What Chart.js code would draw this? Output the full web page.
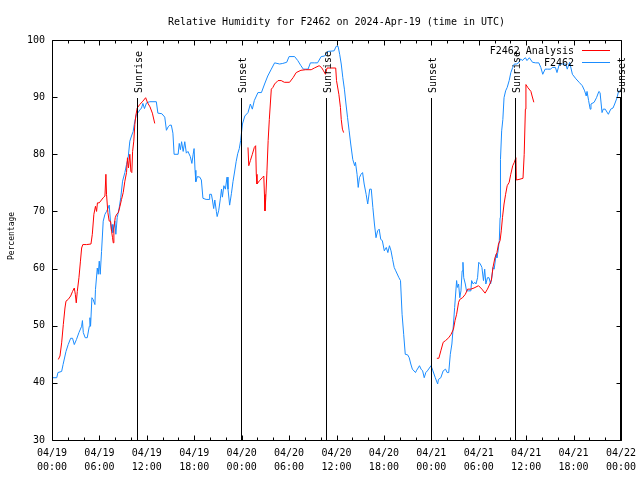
<!DOCTYPE html>
<html>
<head>
<meta charset="utf-8">
<script src="https://cdn.jsdelivr.net/npm/chart.js@4.4.1/dist/chart.umd.min.js"></script>
<style>
  html, body { margin: 0; padding: 0; background: #fff; }
  canvas { display: block; }
</style>
</head>
<body>
<canvas id="rh" width="640" height="480"></canvas>
<script>
// ============ data (hours since 04/19 00:00 UTC) ============
const TITLE = "Relative Humidity for F2462 on 2024-Apr-19 (time in UTC)";
const Y_TITLE = "Percentage";
const DAYS = ["04/19", "04/20", "04/21", "04/22"];

// F2462 observations
const obsHours = [
  0.0, 0.6, 0.75, 1.22, 1.4, 1.77, 2.05, 2.36, 2.6, 2.82, 3.1, 3.41, 3.75, 3.85, 3.96, 4.2, 4.46, 4.72, 4.8, 4.88,
  5.05, 5.2, 5.43, 5.5, 5.73, 5.85, 5.98, 6.1, 6.27, 6.48, 6.7, 6.9, 7.1, 7.24, 7.4, 7.54, 7.62, 7.7, 7.96, 8.08,
  8.25, 8.5, 8.7, 8.93, 9.22, 9.43, 9.64, 9.85, 10.06, 10.27, 10.48, 10.69, 10.9, 11.1, 11.33, 11.5, 11.7, 11.96, 12.38, 13.2,
  13.4, 13.9, 14.27, 14.48, 14.7, 14.9, 15.1, 15.3, 15.45, 15.96, 16.1, 16.25, 16.4, 16.6, 16.8, 17.0, 17.2, 17.5, 17.7, 17.85,
  17.98, 18.1, 18.2, 18.4, 18.7, 18.9, 19.1, 19.5, 19.87, 19.95, 20.17, 20.3, 20.46, 20.6, 20.8, 20.9, 21.1, 21.3, 21.45, 21.56,
  21.75, 21.94, 22.15, 22.27, 22.48, 22.7, 22.9, 23.1, 23.3, 23.5, 23.7, 23.87, 24.1, 24.4, 24.8, 25.1, 25.35, 25.6, 26.06, 26.5,
  26.9, 27.3, 27.75, 28.17, 28.8, 29.2, 29.7, 30.0, 30.7, 31.1, 31.5, 31.8, 32.4, 32.7, 33.2, 33.6, 34.06, 34.5, 34.9, 35.7,
  35.96, 36.2, 36.4, 36.6, 36.8, 37.0, 37.2, 37.4, 37.6, 37.8, 38.06, 38.3, 38.4, 38.6, 38.75, 38.9, 39.1, 39.3, 39.5, 39.75,
  39.95, 40.2, 40.4, 40.6, 40.8, 41.0, 41.2, 41.4, 41.6, 41.8, 42.05, 42.3, 42.5, 42.7, 42.9, 43.1, 43.3, 43.5, 43.9, 44.1,
  44.3, 44.5, 44.7, 45.0, 45.2, 45.4, 45.6, 46.0, 46.1, 46.5, 46.7, 46.9, 47.1, 47.3, 47.5, 47.96, 48.2, 48.5, 48.8, 48.9,
  49.2, 49.5, 49.8, 50.0, 50.2, 50.4, 50.6, 50.8, 50.95, 51.2, 51.3, 51.45, 51.6, 51.75, 51.9, 52.0, 52.1, 52.3, 52.45, 52.7,
  53.0, 53.1, 53.3, 53.5, 53.65, 53.85, 54.0, 54.2, 54.4, 54.6, 54.75, 54.9, 55.1, 55.3, 55.5, 55.65, 55.8, 55.95, 56.2, 56.3,
  56.45, 56.6, 56.7, 56.75, 56.9, 57.05, 57.2, 57.4, 57.6, 57.85, 58.06, 58.3, 58.5, 58.8, 59.1, 59.3, 59.5, 59.9, 60.1, 60.4,
  60.8, 61.2, 61.6, 61.85, 62.1, 62.4, 62.7, 63.1, 63.3, 63.7, 63.9, 64.2, 64.6, 65.0, 65.2, 65.5, 65.85, 66.3, 66.7, 67.1,
  67.4, 67.6, 67.7, 67.9, 68.1, 68.2, 68.6, 68.9, 69.2, 69.35, 69.6, 69.75, 70.0, 70.4, 70.7, 70.99, 71.2, 71.5, 71.7, 72.0
];
const obsValues = [
  40.9, 40.9, 41.8, 42.0, 43.2, 45.5, 46.7, 47.8, 47.8, 46.7, 47.6, 48.8, 49.9, 50.9, 48.8, 47.9, 47.9, 49.9, 51.4, 49.9,
  54.9, 54.6, 53.7, 56.3, 60.1, 59.0, 61.3, 59.0, 63.0, 68.3, 69.5, 70.0, 70.6, 71.1, 68.3, 66.5, 67.7, 66.3, 68.3, 66.0,
  68.9, 70.6, 72.4, 75.3, 76.8, 78.2, 79.4, 82.3, 83.2, 84.0, 85.8, 87.0, 87.3, 87.75, 88.1, 88.9, 88.0, 89.0, 89.2, 89.2,
  87.2, 87.1, 86.5, 84.2, 84.8, 85.1, 85.1, 83.7, 80.0, 80.0, 81.9, 80.8, 82.2, 80.5, 82.2, 80.2, 80.5, 79.6, 78.4, 79.9,
  81.0, 77.2, 75.2, 76.1, 76.0, 75.5, 72.3, 72.1, 72.1, 73.0, 73.0, 72.0, 70.5, 72.0, 70.0, 69.1, 70.2, 72.2, 73.9, 72.5,
  74.5, 73.9, 76.0, 73.9, 71.1, 73.1, 75.2, 76.9, 78.7, 80.1, 81.0, 82.4, 85.3, 86.7, 87.3, 88.8, 87.9, 89.4, 90.8, 90.8,
  92.3, 93.7, 94.9, 96.0, 95.8, 95.9, 96.1, 97.1, 97.1, 96.4, 95.5, 94.9, 94.9, 96.0, 96.0, 96.0, 97.1, 97.2, 98.0, 98.1,
  98.9, 98.9, 97.5, 95.8, 93.4, 91.4, 88.8, 86.4, 84.1, 81.8, 79.1, 78.0, 78.6, 76.5, 74.2, 75.9, 76.5, 76.8, 74.8, 73.0,
  71.3, 73.9, 73.9, 70.7, 67.8, 65.4, 66.6, 66.9, 65.1, 64.9, 63.1, 63.7, 62.8, 64.0, 63.1, 61.6, 60.2, 59.6, 58.4, 57.9,
  52.0, 48.5, 45.0, 44.9, 44.4, 43.3, 42.4, 41.8, 42.1, 43.0, 42.4, 42.1, 40.9, 41.8, 42.1, 43.0, 42.1, 40.9, 39.8, 40.6,
  40.9, 42.1, 42.4, 41.8, 41.8, 45.0, 46.8, 50.3, 53.2, 57.9, 56.7, 57.3, 54.9, 56.1, 59.6, 61.1, 58.4, 57.3, 56.1, 56.1,
  56.1, 57.9, 57.3, 57.6, 57.3, 58.4, 61.1, 60.8, 60.2, 57.9, 59.9, 57.3, 58.4, 58.4, 57.3, 58.4, 60.2, 59.9, 62.5, 61.9,
  63.1, 64.9, 68.9, 79.1, 84.1, 86.1, 89.9, 91.1, 91.7, 92.9, 94.3, 95.2, 95.8, 95.8, 96.1, 96.7, 96.4, 96.9, 96.4, 96.9,
  96.1, 96.0, 96.0, 95.2, 94.0, 94.9, 94.9, 94.9, 95.2, 95.2, 94.3, 95.8, 95.8, 95.8, 94.9, 96.1, 94.0, 93.2, 92.6, 92.0,
  91.1, 90.2, 91.0, 89.4, 87.9, 88.8, 89.1, 89.9, 91.0, 90.8, 87.3, 87.9, 87.9, 87.0, 87.9, 88.1, 88.8, 89.9, 91.1, 91.0
];

// F2462 Analysis (null = gap)
const anaHours = [
  0.8, 1.01, 1.22, 1.43, 1.64, 1.77, 2.05, 2.36, 2.6, 2.82, 2.95, 3.07, 3.2, 3.41, 3.6, 3.75, 3.9, 4.38, 4.93, 5.1,
  5.3, 5.5, 5.64, 5.75, 5.98, 6.48, 6.7, 6.82, 6.9, 7.07, 7.24, 7.41, 7.54, 7.66, 7.75, 7.83, 8.0, 8.17, 8.4, 8.6,
  8.8, 9.01, 9.22, 9.43, 9.55, 9.68, 9.85, 9.98, 10.1, 10.2, 10.35, 10.48, 10.6, 10.78, 11.1, 11.5, 11.85, 12.1, 12.4, 12.7,
  13.0, 13.5,
  24.8, 24.9, 25.1, 25.35, 25.6, 25.77, 25.85, 25.94, 26.27, 26.6, 26.8, 26.88, 26.95, 27.05, 27.2, 27.35, 27.5, 27.75, 27.95, 28.17,
  28.6, 29.0, 29.4, 30.06, 30.5, 30.9, 31.5, 32.1, 32.8, 33.2, 33.8, 34.1, 34.36, 34.6, 34.8, 35.3, 35.9, 36.0, 36.3, 36.5,
  36.6, 36.75, 36.9, 40.0,
  48.7, 48.95, 49.2, 49.5, 49.8, 50.2, 50.5, 50.8, 51.0, 51.2, 51.45, 51.6, 51.95, 52.3, 52.6, 53.0, 53.4, 53.97, 54.4, 54.8,
  55.1, 55.4, 55.6, 55.8, 56.05, 56.3, 56.5, 56.7, 56.85, 57.0, 57.2, 57.4, 57.6, 57.85, 58.05, 58.3, 58.5, 58.7, 58.75, 59.1,
  59.6, 59.75, 59.9, 59.97, 60.2, 60.6, 60.75, 60.97
];
const anaValues = [
  44.1, 44.7, 47.0, 50.2, 53.1, 54.3, 54.6, 55.2, 56.0, 56.6, 55.5, 54.0, 56.0, 58.4, 61.3, 63.6, 64.2, 64.2, 64.3, 66.0,
  69.5, 70.9, 70.0, 71.5, 71.5, 72.4, 72.7, 76.5, 73.0, 69.8, 68.3, 68.3, 66.5, 65.4, 64.5, 67.1, 68.9, 69.5, 69.8, 70.9,
  72.1, 73.3, 75.3, 76.8, 79.4, 77.6, 80.0, 77.0, 76.8, 80.5, 82.3, 85.2, 86.7, 88.1, 88.7, 89.3, 89.9, 89.0, 88.3, 87.2,
  85.4, null,
  81.2, 78.0, 78.9, 80.0, 81.2, 81.5, 76.5, 74.8, 75.4, 75.9, 76.2, 73.0, 70.1, 72.4, 77.1, 82.4, 86.1, 91.4, 91.7, 92.3,
  92.9, 92.9, 92.6, 92.6, 93.4, 94.3, 94.7, 94.8, 94.8, 95.1, 95.5, 95.2, 94.6, 94.0, 95.1, 95.1, 95.1, 92.9, 90.5, 88.2,
  86.1, 84.4, 83.8, null,
  44.3, 44.3, 45.6, 47.1, 47.4, 47.9, 48.5, 49.4, 50.9, 52.0, 54.1, 54.6, 54.9, 55.5, 56.4, 56.4, 56.6, 57.0, 56.4, 55.7,
  56.4, 57.3, 58.0, 60.2, 61.9, 62.8, 64.3, 64.9, 66.6, 68.9, 71.3, 73.0, 74.5, 75.1, 76.5, 78.0, 78.6, 79.4, 75.5, 75.6,
  75.8, 80.0, 87.9, 92.2, 91.7, 91.0, 90.2, 89.1
];

const sunHours = [10.7, 23.93, 34.65, 47.93, 58.65, 71.9];
const sunLabels = ["Sunrise", "Sunset", "Sunrise", "Sunset", "Sunrise", "Sunset"];

const FONT = "'DejaVu Sans Mono', 'Liberation Mono', monospace";
const RED = "#ff0000";
const BLUE = "#1a8cff";

const toPoints = (hs, vs) => hs.map((h, i) => ({ x: h, y: vs[i] }));

// =====================
// frame, ticks, sun lines, legend, titles
// =====================
const frame = {
  id: "frame",
  afterDraw(chart) {
    const ctx = chart.ctx;
    const a = chart.chartArea;
    const xs = chart.scales.x, ys = chart.scales.y;
    const L = Math.round(a.left) + 0.5, R = Math.round(a.right) + 0.5;
    const T = Math.round(a.top) + 0.5, B = Math.round(a.bottom) + 0.5;
    ctx.save();
    ctx.strokeStyle = "#000";
    ctx.lineWidth = 1;
    ctx.beginPath();
    ctx.rect(L, T, R - L, B - T);
    // x ticks: major every 6h, minor every 2h
    for (let h = 0; h <= 72; h += 2) {
      const px = Math.round(xs.getPixelForValue(h)) + 0.5;
      const len = h % 6 === 0 ? 5 : 3;
      ctx.moveTo(px, B); ctx.lineTo(px, B - len);
      ctx.moveTo(px, T); ctx.lineTo(px, T + len);
    }
    for (let v = 30; v <= 100; v += 10) {
      const py = Math.round(ys.getPixelForValue(v)) + 0.5;
      ctx.moveTo(L, py); ctx.lineTo(L + 5, py);
      ctx.moveTo(R, py); ctx.lineTo(R - 5, py);
    }
    ctx.stroke();

    // sunrise / sunset
    const topY = Math.round(ys.getPixelForValue(90)) + 1;
    ctx.fillStyle = "#000";
    ctx.font = "10px " + FONT;
    sunHours.forEach((h, i) => {
      const px = Math.round(xs.getPixelForValue(h)) + 0.5;
      ctx.beginPath();
      ctx.moveTo(px, B); ctx.lineTo(px, topY);
      ctx.stroke();
      ctx.save();
      ctx.translate(px + 4.5, topY - 5);
      ctx.rotate(-Math.PI / 2);
      ctx.textAlign = "left";
      ctx.textBaseline = "alphabetic";
      ctx.fillText(sunLabels[i], 0, 0);
      ctx.restore();
    });

    // title
    ctx.textAlign = "center";
    ctx.textBaseline = "alphabetic";
    ctx.fillText(TITLE, (a.left + a.right) / 2, 25);

    // y title
    ctx.save();
    ctx.font = "8px " + FONT;
    ctx.translate(11.5, (a.top + a.bottom) / 2 - 4);
    ctx.rotate(-Math.PI / 2);
    ctx.textBaseline = "middle";
    ctx.fillText(Y_TITLE, 0, 0);
    ctx.restore();

    // legend
    ctx.font = "10px " + FONT;
    ctx.textAlign = "right";
    chart.data.datasets.forEach((ds, i) => {
      const base = 54 + i * 12;
      ctx.fillStyle = "#000";
      ctx.fillText(ds.label, 574, base);
      ctx.strokeStyle = ds.borderColor;
      ctx.beginPath();
      ctx.moveTo(582, base - 3.5); ctx.lineTo(610, base - 3.5);
      ctx.stroke();
    });
    ctx.restore();
  }
};

new Chart(document.getElementById("rh"), {
  type: "line",
  data: {
    datasets: [
      { label: "F2462 Analysis", data: toPoints(anaHours, anaValues), borderColor: RED, borderWidth: 1, pointRadius: 0, spanGaps: false, tension: 0 },
      { label: "F2462", data: toPoints(obsHours, obsValues), borderColor: BLUE, borderWidth: 1, pointRadius: 0, tension: 0 }
    ]
  },
  options: {
    responsive: false,
    animation: false,
    devicePixelRatio: 1,
    layout: { padding: { top: 40, right: 19, left: 0, bottom: 0 } },
    plugins: { legend: { display: false }, title: { display: false }, tooltip: { enabled: false } },
    scales: {
      x: {
        type: "linear", min: 0, max: 72,
        grid: { display: false, drawTicks: false },
        border: { display: false },
        ticks: {
          stepSize: 6, autoSkip: false, maxRotation: 0, padding: 6, color: "#000",
          font: { family: FONT, size: 10, lineHeight: 1.4 },
          callback: v => [DAYS[Math.floor(v / 24)], String(v % 24).padStart(2, "0") + ":00"]
        },
        afterFit(s) { s.height = 40; s.paddingLeft = 0; s.paddingRight = 0; }
      },
      y: {
        min: 30, max: 100,
        grid: { display: false, drawTicks: false },
        border: { display: false },
        ticks: { stepSize: 10, padding: 7, color: "#000", font: { family: FONT, size: 10 } },
        afterFit(s) { s.width = 52; }
      }
    }
  },
  plugins: [frame]
});
</script>
</body>
</html>
